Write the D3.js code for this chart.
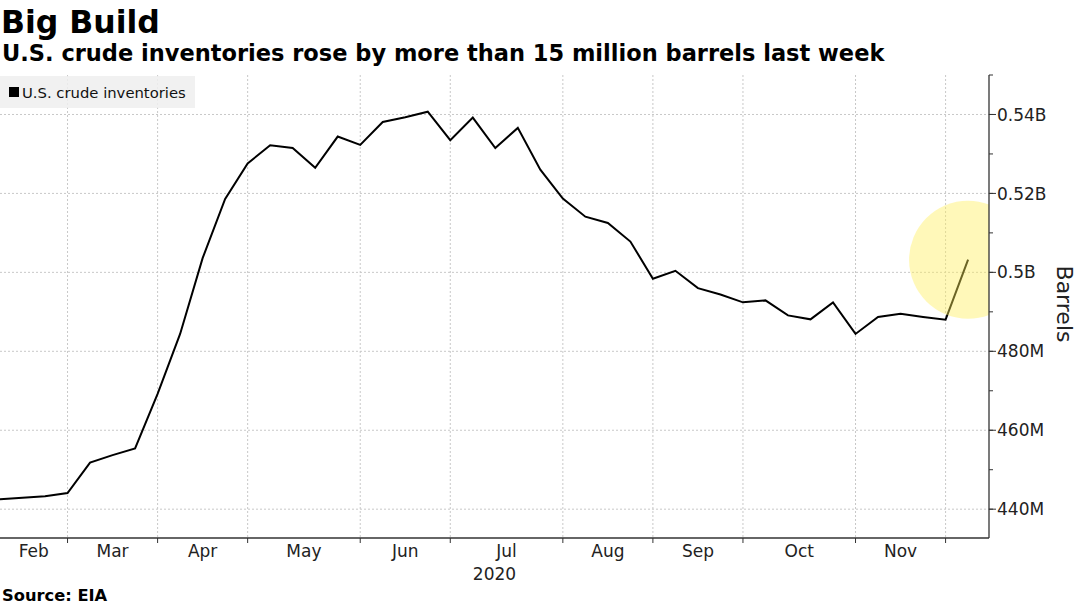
<!DOCTYPE html>
<html>
<head>
<meta charset="utf-8">
<script src="https://cdn.jsdelivr.net/npm/d3@7"></script>
<style>
  html, body { margin: 0; padding: 0; background: #fff; }
  svg { display: block; }
  text { font-family: "DejaVu Sans", Verdana, sans-serif; }
</style>
</head>
<body>
<svg id="chart" width="1079" height="606"></svg>
<script>
// ---- Data (weekly U.S. commercial crude inventories, million barrels) ----
const weeks = [
  "2020-02-07","2020-02-14","2020-02-21","2020-02-28",
  "2020-03-06","2020-03-13","2020-03-20","2020-03-27",
  "2020-04-03","2020-04-10","2020-04-17","2020-04-24",
  "2020-05-01","2020-05-08","2020-05-15","2020-05-22","2020-05-29",
  "2020-06-05","2020-06-12","2020-06-19","2020-06-26",
  "2020-07-03","2020-07-10","2020-07-17","2020-07-24","2020-07-31",
  "2020-08-07","2020-08-14","2020-08-21","2020-08-28",
  "2020-09-04","2020-09-11","2020-09-18","2020-09-25",
  "2020-10-02","2020-10-09","2020-10-16","2020-10-23","2020-10-30",
  "2020-11-06","2020-11-13","2020-11-20","2020-11-27",
  "2020-12-04"
];
const inventories = [
  442.5, 442.9, 443.3, 444.1,
  451.8, 453.7, 455.4, 469.2,
  484.4, 503.6, 518.6, 527.6,
  532.2, 531.5, 526.5, 534.4, 532.3,
  538.1, 539.3, 540.7, 533.5,
  539.2, 531.5, 536.6, 526.0, 518.7,
  514.1, 512.5, 507.8, 498.4,
  500.4, 496.0, 494.4, 492.4,
  492.9, 489.1, 488.1, 492.4, 484.4,
  488.7, 489.5, 488.7, 488.0,
  503.2
];
const monthLabels = ["Feb","Mar","Apr","May","Jun","Jul","Aug","Sep","Oct","Nov"];
const yearLabel = "2020";
const yTicks = [440, 460, 480, 500, 520, 540];
const yTickLabels = ["440M","460M","480M","0.5B","0.52B","0.54B"];
const yMinorTicks = [440, 450, 460, 470, 480, 490, 500, 510, 520, 530, 540, 550];
const seriesName = "U.S. crude inventories";
const titleText = "Big Build";
const subtitleText = "U.S. crude inventories rose by more than 15 million barrels last week";
const sourceText = "Source: EIA";
const axisTitle = "Barrels";

// ---- Layout ----
const plot = { left: 0, right: 989, top: 75, bottom: 538 };
const svg = d3.select("#chart");

const parse = d3.utcParse("%Y-%m-%d");
const data = weeks.map((w, i) => ({ date: parse(w), value: inventories[i] }));

const first = data[0].date;
const last = data[data.length - 1].date;
const x = d3.scaleUtc()
  .domain([first, d3.utcHour.offset(last, 156)])
  .range([plot.left, plot.right]);
const y = d3.scaleLinear()
  .domain([432.7, 550])
  .range([plot.bottom, plot.top]);

// month boundary ticks: last data point of each month
const tickDates = [];
for (let i = 0; i < data.length - 1; i++) {
  if (data[i].date.getUTCMonth() !== data[i + 1].date.getUTCMonth()) tickDates.push(data[i].date);
}

// ---- Gridlines ----
const grid = svg.append("g").attr("class", "grid");
grid.selectAll("line.h").data(yTicks).join("line")
  .attr("x1", plot.left).attr("x2", plot.right)
  .attr("y1", d => y(d)).attr("y2", d => y(d))
  .attr("stroke", "#c8c8c8").attr("stroke-width", 1).attr("stroke-dasharray", "2,2");
grid.selectAll("line.v").data(tickDates).join("line")
  .attr("x1", d => x(d)).attr("x2", d => x(d))
  .attr("y1", plot.top).attr("y2", plot.bottom)
  .attr("stroke", "#c8c8c8").attr("stroke-width", 1).attr("stroke-dasharray", "2,2");

// ---- Legend ----
const legend = svg.append("g");
legend.append("rect").attr("x", 0).attr("y", 76).attr("width", 195).attr("height", 32)
  .attr("fill", "#efefef").attr("fill-opacity", 0.85);
legend.append("rect").attr("x", 9).attr("y", 87).attr("width", 10).attr("height", 10).attr("fill", "#000");
legend.append("text").attr("x", 22).attr("y", 98)
  .attr("font-size", 14.8).attr("fill", "#111").text(seriesName);

// ---- Line ----
const line = d3.line().x(d => x(d.date)).y(d => y(d.value));
svg.append("path").datum(data)
  .attr("d", line).attr("fill", "none")
  .attr("stroke", "#000").attr("stroke-width", 2).attr("stroke-linejoin", "miter");

// ---- Highlight circle on last point ----
svg.append("clipPath").attr("id", "plotclip").append("rect")
  .attr("x", plot.left).attr("y", plot.top)
  .attr("width", plot.right - plot.left).attr("height", plot.bottom - plot.top);
const lastPt = data[data.length - 1];
svg.append("circle").attr("clip-path", "url(#plotclip)")
  .attr("cx", x(lastPt.date)).attr("cy", y(lastPt.value)).attr("r", 59)
  .attr("fill", "#ffee58").attr("fill-opacity", 0.42);

// ---- X axis ----
const xAxisG = svg.append("g").attr("transform", `translate(0,${plot.bottom})`);
xAxisG.append("line").attr("x1", plot.left).attr("x2", plot.right)
  .attr("stroke", "#333").attr("stroke-width", 1.3);
xAxisG.selectAll("line.t").data(tickDates).join("line")
  .attr("x1", d => x(d)).attr("x2", d => x(d)).attr("y1", 0).attr("y2", 5)
  .attr("stroke", "#333");
const bounds = [plot.left, ...tickDates.map(d => x(d))];
xAxisG.selectAll("text.m").data(monthLabels).join("text")
  .attr("x", (d, i) => (bounds[i] + bounds[i + 1]) / 2)
  .attr("y", 19).attr("text-anchor", "middle")
  .attr("font-size", 17).attr("fill", "#222").text(d => d);
xAxisG.append("text").attr("x", (plot.left + plot.right) / 2).attr("y", 42)
  .attr("text-anchor", "middle").attr("font-size", 17).attr("fill", "#222").text(yearLabel);

// ---- Y axis (right) ----
const yAxisG = svg.append("g").attr("transform", `translate(${plot.right},0)`);
yAxisG.append("line").attr("y1", plot.top).attr("y2", plot.bottom)
  .attr("stroke", "#333").attr("stroke-width", 1.3);
yAxisG.selectAll("line.minor").data(yMinorTicks).join("line")
  .attr("x1", 0).attr("x2", 4).attr("y1", d => y(d)).attr("y2", d => y(d))
  .attr("stroke", "#333");
yAxisG.selectAll("line.major").data(yTicks).join("line")
  .attr("x1", 0).attr("x2", 7).attr("y1", d => y(d)).attr("y2", d => y(d))
  .attr("stroke", "#333");
yAxisG.selectAll("text.yl").data(yTicks).join("text")
  .attr("x", 8).attr("y", d => y(d)).attr("dy", "0.36em")
  .attr("font-size", 17).attr("fill", "#222").text((d, i) => yTickLabels[i]);
svg.append("text")
  .attr("transform", `translate(1057,${304}) rotate(90)`)
  .attr("text-anchor", "middle").attr("font-size", 22).attr("fill", "#222").text(axisTitle);

// ---- Titles ----
svg.append("text").attr("x", 1).attr("y", 33).attr("font-size", 31.5).attr("font-weight", "bold")
  .attr("fill", "#000").text(titleText);
svg.append("text").attr("x", 2).attr("y", 61).attr("font-size", 22.5).attr("font-weight", "bold")
  .attr("fill", "#000").text(subtitleText);
svg.append("text").attr("x", 2).attr("y", 601).attr("font-size", 16.3).attr("font-weight", "bold")
  .attr("fill", "#000").text(sourceText);
</script>
</body>
</html>
